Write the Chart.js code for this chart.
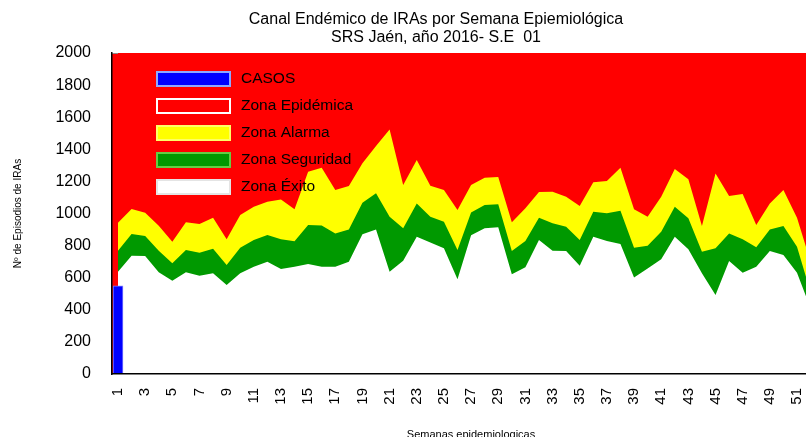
<!DOCTYPE html>
<html>
<head>
<meta charset="utf-8">
<script src="https://cdn.jsdelivr.net/npm/chart.js@4"></script>
<style>
  body { margin: 0; overflow: hidden; background: #fff; }
</style>
</head>
<body>
<canvas id="myChart" width="872" height="437"></canvas>
<script>
// semanas epidemiologicas
const weeks = [1, 2, 3, 4, 5, 6, 7, 8, 9, 10, 11, 12, 13, 14, 15, 16, 17, 18, 19, 20, 21, 22, 23, 24, 25, 26,
  27, 28, 29, 30, 31, 32, 33, 34, 35, 36, 37, 38, 39, 40, 41, 42, 43, 44, 45, 46, 47, 48, 49, 50, 51, 52];

// limite superior de cada zona
const exito = [637, 737, 735, 634, 581, 634, 612, 627, 554, 627, 668, 700, 654, 668, 685, 668, 668, 700, 870, 901, 637, 706, 855, 820, 783, 590,
  864, 908, 914, 621, 665, 835, 768, 766, 675, 855, 829, 810, 602, 658, 715, 855, 777, 627, 492, 704, 631, 668, 766, 741, 631, 410];
const seguridad = [768, 872, 860, 768, 690, 773, 756, 781, 679, 787, 835, 866, 839, 827, 928, 926, 876, 901, 1067, 1126, 980, 908, 1063, 980, 949, 773,
  1007, 1053, 1057, 766, 829, 974, 939, 918, 835, 1011, 1001, 1017, 787, 799, 887, 1042, 970, 762, 783, 876, 839, 789, 901, 922, 793, 510];
const alarma = [943, 1028, 1005, 924, 824, 945, 935, 974, 839, 991, 1042, 1073, 1088, 1026, 1260, 1285, 1146, 1171, 1313, 1420, 1524, 1177, 1333, 1173, 1146, 1022,
  1177, 1223, 1227, 945, 1032, 1134, 1136, 1105, 1047, 1194, 1202, 1285, 1026, 980, 1105, 1277, 1213, 922, 1250, 1109, 1121, 928, 1063, 1146, 974, 700];

// casos notificados (S.E 01)
const casos = [550];

const font = '"Liberation Sans", Arial, sans-serif';
const chartCtx = document.getElementById("myChart").getContext("2d");

const toPoints = (values) => values.map((v, i) => ({ x: weeks[i], y: v }));

// fondo rojo del area de trazado
const plotBackground = {
  id: "plotBackground",
  beforeDraw: (chart) => {
    const { ctx, chartArea: a } = chart;
    ctx.save();
    ctx.fillStyle = "#ff0000";
    ctx.fillRect(a.left, a.top, a.right - a.left, a.bottom - a.top);
    ctx.strokeStyle = "#8c8c8c";
    ctx.lineWidth = 1;
    ctx.beginPath();
    ctx.moveTo(a.left, a.top + 0.5);
    ctx.lineTo(a.right, a.top + 0.5);
    ctx.stroke();
    ctx.restore();
  },
};

// leyenda dentro del grafico
const boxLegend = {
  id: "boxLegend",
  afterDraw: (chart, args, opts) => {
    const { ctx, chartArea: a } = chart;
    ctx.save();
    ctx.font = `15.5px ${font}`;
    ctx.textBaseline = "middle";
    chart.data.datasets.forEach((ds, i) => {
      const y = a.top + 19 + i * 27;
      ctx.fillStyle = ds.backgroundColor;
      ctx.fillRect(a.left + 45, y, 73, 14);
      ctx.strokeStyle = opts.borders[i];
      ctx.lineWidth = 2;
      ctx.strokeRect(a.left + 45, y, 73, 14);
      ctx.fillStyle = "#000";
      ctx.fillText(ds.label, a.left + 129, y + 7);
    });
    ctx.restore();
  },
};

const area = (label, data, color, fill, order) => ({
  label,
  data: toPoints(data),
  backgroundColor: color,
  borderColor: color,
  borderWidth: 0,
  pointRadius: 0,
  tension: 0,
  fill,
  order,
});

new Chart(chartCtx, {
  type: "line",
  data: {
    datasets: [
      {
        type: "bar",
        label: "CASOS",
        data: toPoints(casos),
        backgroundColor: "#0000ff",
        borderColor: "#8080ff",
        borderWidth: 1,
        barThickness: 10,
        order: 1,
      },
      area("Zona Epidémica", alarma, "#ff0000", "end", 5),
      area("Zona Alarma", alarma, "#ffff00", "origin", 4),
      area("Zona Seguridad", seguridad, "#009900", "origin", 3),
      area("Zona Éxito", exito, "#ffffff", "origin", 2),
    ],
  },
  options: {
    responsive: false,
    animation: false,
    layout: { padding: { left: 0, right: 0, top: 0, bottom: -5 } },
    plugins: {
      legend: { display: false },
      tooltip: { enabled: false },
      boxLegend: { borders: ["#8fa8ff", "#ffffff", "#ffff66", "#66cc44", "#e4e4e4"] },
      title: {
        display: true,
        text: ["Canal Endémico de IRAs por Semana Epiemiológica", "SRS Jaén, año 2016- S.E  01"],
        color: "#000",
        font: { family: font, size: 16, weight: "normal", lineHeight: 1.125 },
        padding: { top: 11, bottom: 6 },
      },
    },
    scales: {
      x: {
        type: "linear",
        min: 0.558,
        max: 53.43,
        offset: false,
        grid: { display: false, drawTicks: false },
        border: { display: true, color: "#000", width: 1.5, z: 1 },
        afterBuildTicks: (scale) => {
          scale.ticks = weeks.filter((w) => w % 2 === 1).map((w) => ({ value: w }));
        },
        afterFit: (scale) => {
          scale.height = 68;
        },
        ticks: {
          autoSkip: false,
          minRotation: 90,
          maxRotation: 90,
          padding: 14,
          color: "#000",
          font: { family: font, size: 15 },
          callback: (value) => String(value),
        },
        title: {
          display: true,
          text: "Semanas epidemiologicas",
          color: "#000",
          font: { family: font, size: 11 },
          padding: { top: 0, bottom: 0 },
        },
      },
      y: {
        min: 0,
        max: 2000,
        grid: { display: false, drawTicks: false },
        border: { display: true, color: "#000", width: 1.5, z: 1 },
        afterFit: (scale) => {
          scale.width = 112;
        },
        ticks: {
          stepSize: 200,
          padding: 21,
          color: "#000",
          font: { family: font, size: 16 },
          callback: (value) => String(value),
        },
        title: {
          display: true,
          text: "Nº de Episodios de IRAs",
          color: "#000",
          font: { family: font, size: 10 },
          padding: { top: 12, bottom: 0 },
        },
      },
      yRight: {
        type: "linear",
        position: "right",
        grid: { display: false, drawTicks: false },
        border: { display: false },
        ticks: { display: false },
        afterFit: (scale) => {
          scale.width = 42;
        },
      },
    },
  },
  plugins: [plotBackground, boxLegend],
});
</script>
</body>
</html>
